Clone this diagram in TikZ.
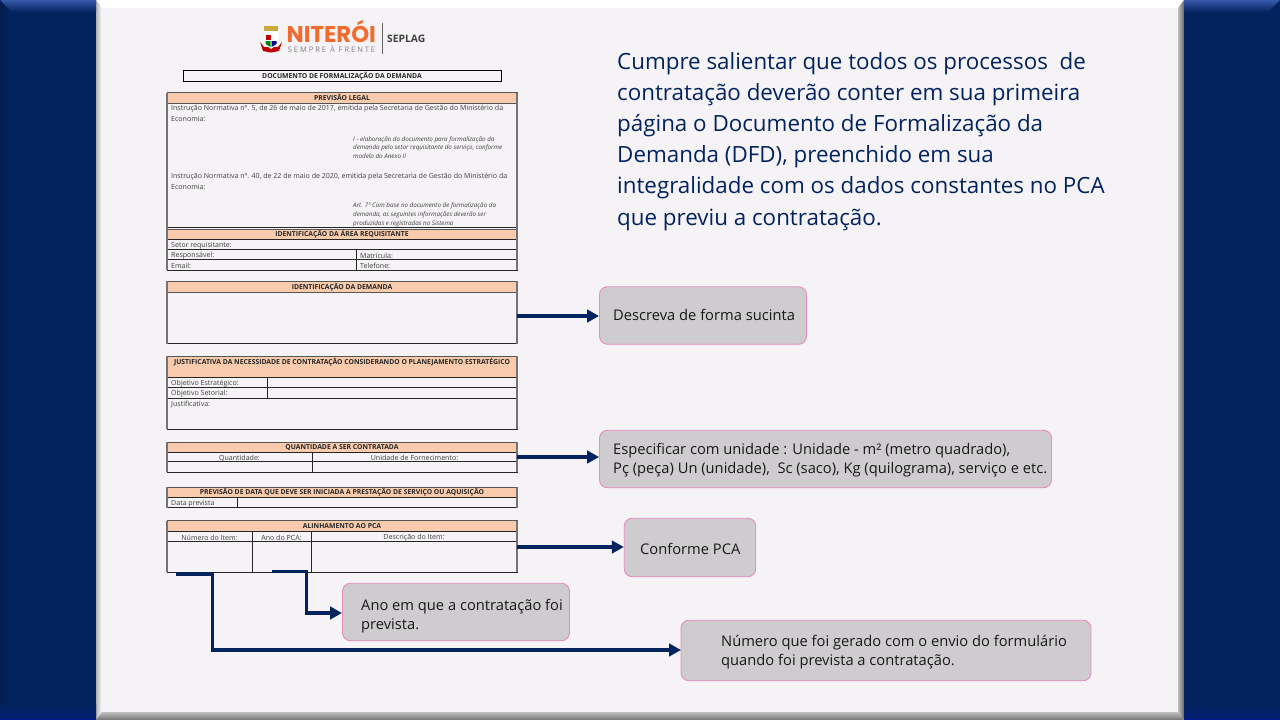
\documentclass[tikz,border=0pt]{standalone}
\usepackage{fontspec}
\setmainfont{Open Sans}
\newfontfamily\logofont{Poppins}
\newfontfamily\lemafont[LetterSpace=25]{Open Sans}
\usetikzlibrary{arrows.meta,calc}
\definecolor{navy}{HTML}{03235F}
\definecolor{panelhi}{HTML}{3558A8}
\definecolor{paper}{HTML}{F5F3F5}
\definecolor{peach}{HTML}{F8CBAD}
\definecolor{callgray}{HTML}{CECCCE}
\definecolor{callpink}{HTML}{E88BBE}
\definecolor{rulegray}{HTML}{555555}
\definecolor{nitorange}{HTML}{F26A2E}
\definecolor{crowngold}{HTML}{C9A93C}
\tikzset{
  hdr/.style={draw=rulegray,line width=0.9pt,fill=peach,anchor=center,inner sep=0pt,text height=5pt,text depth=0pt,
    font=\fontsize{6.82}{8}\selectfont\bfseries,text=black!85},
  cell/.style={anchor=west,inner sep=0pt,yshift=-1pt,font=\fontsize{7.05}{8}\selectfont,text=black!75},
  mid/.style={anchor=center,inner sep=0pt,yshift=-1pt,font=\fontsize{7.05}{8}\selectfont,text=black!75},
  law/.style={anchor=west,inner sep=0pt,yshift=-0.5pt,font=\fontsize{6.25}{7}\selectfont\itshape,text=black!75},
  grid/.style={draw=black!85,line width=0.8pt},
  side/.style={draw=black!55,line width=1.5pt},
  callout/.style={draw=callpink,line width=0.9pt,fill=callgray,rounded corners=8pt,inner sep=0pt},
  calltxt/.style={anchor=west,inner sep=0pt,align=left,font=\fontsize{14.7}{19}\selectfont,text=black!90},
  flow/.style={draw=navy,line width=3.4pt,-{Triangle[length=12pt,width=12.5pt]}},
}
\begin{document}
\begin{tikzpicture}[x=1pt,y=-1pt]
    \useasboundingbox (0,0) rectangle (1280,720);

    % slide frame
    \fill[white] (96,0) rectangle (1184,720);
    \fill[paper] (102,8) rectangle (1178,712);
    \shade[left color=black!30,right color=white] (96,0) -- (102,8) -- (102,712) -- (96,720) -- cycle;
    \shade[left color=black!25,right color=black!60] (1178,8) -- (1184,0) -- (1184,720) -- (1178,712) -- cycle;
    \shade[top color=black!25,bottom color=black!55] (102,712) -- (1178,712) -- (1184,720) -- (96,720) -- cycle;
    \fill[navy] (0,0) rectangle (96,720);
    \fill[navy] (1184,0) rectangle (1280,720);
    \shade[top color=panelhi,bottom color=navy] (0,0) -- (96,0) -- (96,12) -- (12,12) -- cycle;
    \shade[top color=panelhi,bottom color=navy] (1184,0) -- (1280,0) -- (1268,12) -- (1184,12) -- cycle;
    \shade[left color=black!20!navy,right color=navy] (0,0) -- (10,12) -- (10,708) -- (0,720) -- cycle;
    \foreach \x in {0,1184} {
      \shade[top color=navy,bottom color=navy!88!blue] (\x,704) rectangle ++(96,15);
      \fill[navy!70!blue] (\x,719) rectangle ++(96,1);
    }

    % logo
    \fill[red!75!black] (260,42) -- (263,51) -- (271,52.5) -- (279,51) -- (282,42) -- (278,47) -- (264,47) -- cycle;
    \fill[crowngold] (264,26) rectangle (278,31);
    \fill[white] (264,31) rectangle (278,34);
    \fill[white] (264,34) -- (264,44) -- (271,49) -- (278,44) -- (278,34) -- cycle;
    \fill[red!75!black] (265.5,35) rectangle (270.5,40);
    \fill[green!50!black] (265.5,41) -- (265.5,44) -- (270.5,47) -- (270.5,41) -- cycle;
    \fill[blue!60!black] (271.5,41) -- (271.5,47) -- (276.5,44) -- (276.5,41) -- cycle;
    \node[anchor=base west,inner sep=0pt,text=nitorange,font=\logofont\fontsize{22.8}{24}\selectfont\bfseries] (nit) at (286.5,42.5) {NITERÓI};
    \node[anchor=base west,inner sep=0pt,text=black!50,font=\lemafont\fontsize{7.6}{9}\selectfont] (lema) at (287.7,52) {SEMPRE À FRENTE};
    \draw[black!60,line width=0.7pt] (382.3,23) -- (382.3,54);
    \node[anchor=west,inner sep=0pt,text=black!75,font=\fontsize{10.3}{12}\selectfont\bfseries] (sep) at (387,39) {SEPLAG};

    % form
    \node[draw=black,line width=0.9pt,minimum width=318pt,minimum height=11pt,inner sep=0pt,text height=5pt,text depth=0pt,
      font=\fontsize{6.82}{8}\selectfont\bfseries,text=black!85] (titulo) at (342,75.5) {DOCUMENTO DE FORMALIZAÇÃO DA DEMANDA};

    \draw[grid] (167,103) rectangle (517,227);
    \node[hdr,minimum width=350pt,minimum height=10.5pt] (prev) at (342,98) {PREVISÃO LEGAL};
    \node[cell] (in1) at (171,107.5) {Instrução Normativa nº. 5, de 26 de maio de 2017, emitida pela Secretaria de Gestão do Ministério da};
    \node[cell] (in1b) at (171,118) {Economia:};
    \node[law] (la1) at (353,139) {I - elaboração do documento para formalização da};
    \node[law] (la2) at (353,147.5) {demanda pelo setor requisitante do serviço, conforme};
    \node[law] (la3) at (353,156) {modelo do Anexo II};
    \node[cell] (in2) at (171,175.5) {Instrução Normativa nº. 40, de 22 de maio de 2020, emitida pela Secretaria de Gestão do Ministério da};
    \node[cell] (in2b) at (171,186) {Economia:};
    \node[law] (la4) at (353,205.5) {Art. 7º Com base no documento de formalização da};
    \node[law] (la5) at (353,214) {demanda, as seguintes informações deverão ser};
    \node[law] (la6) at (353,223) {produzidas e registradas no Sistema};

    \node[hdr,minimum width=350pt,minimum height=10pt] (area) at (342,234) {IDENTIFICAÇÃO DA ÁREA REQUISITANTE};
    \draw[grid] (167,239) rectangle (517,270);
    \foreach \y in {249,259} \draw[grid] (167,\y) -- (517,\y);
    \draw[grid] (356,249) -- (356,270);
    \node[cell] (setor) at (171,244.5) {Setor requisitante:};
    \node[cell] (resp) at (171,254.5) {Responsável:};
    \node[cell] (mat) at (360,254.5) {Matrícula:};
    \node[cell] (mail) at (171,265) {Email:};
    \node[cell] (tel) at (360,265) {Telefone:};

    \draw[grid] (167,292) rectangle (517,343.5);
    \node[hdr,minimum width=350pt,minimum height=11pt] (dem) at (342,286.5) {IDENTIFICAÇÃO DA DEMANDA};

    \node[hdr,minimum width=350pt,minimum height=21pt,text height=5pt,text depth=10pt] (just) at (342,366.5) {JUSTIFICATIVA DA NECESSIDADE DE CONTRATAÇÃO CONSIDERANDO O PLANEJAMENTO ESTRATÉGICO};
    \draw[grid] (167,377) rectangle (517,429);
    \foreach \y in {387.7,398} \draw[grid] (167,\y) -- (517,\y);
    \draw[grid] (267,377) -- (267,398);
    \node[cell] (oe) at (171,382.5) {Objetivo Estratégico:};
    \node[cell] (os) at (171,393) {Objetivo Setorial:};
    \node[cell] (ju) at (171,403) {Justificativa:};

    \node[hdr,minimum width=350pt,minimum height=10pt] (qtd) at (342,447) {QUANTIDADE A SER CONTRATADA};
    \draw[grid] (167,452) rectangle (517,472.3);
    \draw[grid] (167,461.7) -- (517,461.7);
    \draw[grid] (312,452) -- (312,472.3);
    \node[mid] (qt) at (239.5,457) {Quantidade:};
    \node[mid] (un) at (414.5,457) {Unidade de Fornecimento:};

    \node[hdr,minimum width=350pt,minimum height=10.5pt] (data) at (342,492.3) {PREVISÃO DE DATA QUE DEVE SER INICIADA A PRESTAÇÃO DE SERVIÇO OU AQUISIÇÃO};
    \draw[grid] (167,497.5) rectangle (517,507.7);
    \draw[grid] (237.3,497.5) -- (237.3,507.7);
    \node[cell] (dp) at (171,503) {Data prevista};

    \node[hdr,minimum width=350pt,minimum height=10.5pt] (pca) at (342,526) {ALINHAMENTO AO PCA};
    \draw[grid] (167,531.3) rectangle (517,572.3);
    \draw[grid] (167,541.7) -- (517,541.7);
    \foreach \x in {252.3,311} \draw[grid] (\x,531.3) -- (\x,572.3);
    \node[mid] (ni) at (209.5,536.5) {Número do Item:};
    \node[mid] (ap) at (281.5,536.5) {Ano do PCA:};
    \node[mid] (di) at (414,536.5) {Descrição do Item:};

    % gray table sides
    \foreach \a/\b in {92.7/270,281/343.5,356/429,441.7/472.3,487/507.7,520.7/572.3} {
      \draw[side] (167,\a) -- (167,\b);
      \draw[side] (517,\a) -- (517,\b);
    }

    % texto
    \node[anchor=north west,inner sep=0pt,text=navy,align=left,font=\fontsize{22.36}{31.2}\selectfont] (aviso) at (617,52)
    {Cumpre salientar que todos os processos\ \ de\\contratação deverão conter em sua primeira\\página o Documento de Formalização da\\Demanda (DFD), preenchido em sua\\integralidade com os dados constantes no PCA\\que previu a contratação.};

    % callouts
    \node[callout,minimum width=207pt,minimum height=57.5pt] (descr) at (703,315.5) {};
    \node[calltxt] (descrtxt) at (613,315) {Descreva de forma sucinta};
    \node[callout,minimum width=452pt,minimum height=57.5pt] (unid) at (825.5,459) {};
    \node[calltxt] (unidtxt) at (613,460) {Especificar com unidade : Unidade - m² (metro quadrado),\\Pç (peça) Un (unidade),\ \ Sc (saco), Kg (quilograma), serviço e etc.};
    \node[callout,minimum width=131.5pt,minimum height=58.5pt] (conf) at (690,547.5) {};
    \node[calltxt] (conftxt) at (640,549) {Conforme PCA};
    \node[callout,minimum width=227pt,minimum height=57.5pt] (ano) at (456,612) {};
    \node[calltxt] (anotxt) at (361,616) {Ano em que a contratação foi\\prevista.};
    \node[callout,minimum width=410pt,minimum height=60.5pt] (num) at (886,650.5) {};
    \node[calltxt] (numtxt) at (721,652) {Número que foi gerado com o envio do formulário\\quando foi prevista a contratação.};

    % setas
    \coordinate (s1) at (517,316);
    \coordinate (s2) at (517,457);
    \coordinate (s3) at (517,547);
    \coordinate (s4) at (272,571.5);
    \coordinate (s5) at (176,574);
    \coordinate (e4) at (342,613);
    \coordinate (e5) at (681,650);

    \draw[flow] (s1) -- (s1 -| descr.west);
    \draw[flow] (s2) -- (s2 -| unid.west);
    \draw[flow] (s3) -- (s3 -| conf.west);
    \draw[flow] (s4) -| (306.7,613) -- (e4);
    \draw[flow] (s5) -| (212.3,650) -- (e5);

  \end{tikzpicture}
\end{document}
